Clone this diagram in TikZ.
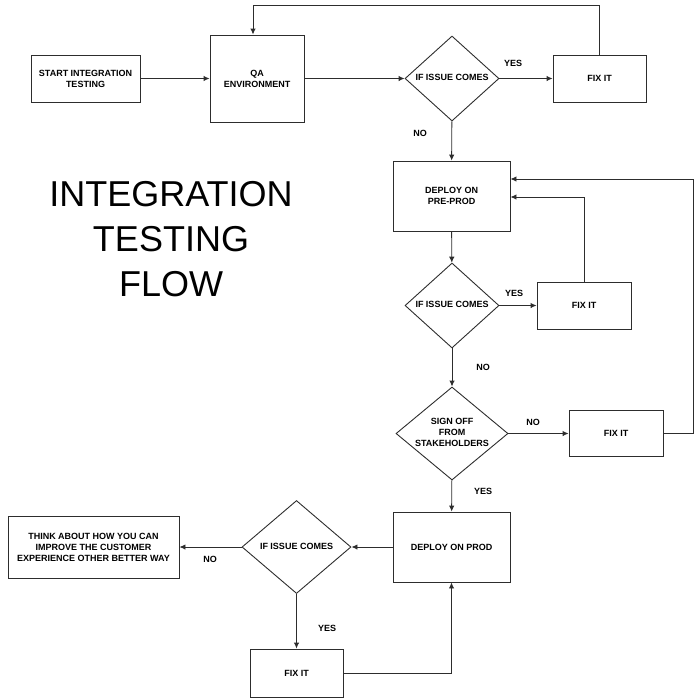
\documentclass[tikz,border=0pt]{standalone}
\usepackage{fontspec}
\setmainfont{Liberation Sans}
\usetikzlibrary{shapes.geometric}
\usetikzlibrary{arrows.meta}
\usepackage{xcolor}
\definecolor{ColLine}{RGB}{45,45,45}
\tikzstyle{StepBox}=[rectangle,draw=ColLine,line width=0.9pt,inner sep=1pt,align=center,
font=\fontsize{9}{11}\selectfont\bfseries]
\tikzstyle{Decision}=[diamond,draw=ColLine,line width=0.9pt,inner sep=0pt,
font=\fontsize{9}{11}\selectfont\bfseries]
\tikzstyle{Flow}=[ColLine,line width=0.9pt,-{Latex[length=6pt,width=5.5pt]}]
\tikzstyle{Answer}=[inner sep=0pt,font=\fontsize{9}{11}\selectfont\bfseries]
\newcommand{\Flat}[1]{\makebox[0pt]{\begin{tabular}{@{}c@{}}#1\end{tabular}}}

\begin{document}
\begin{tikzpicture}[x=1pt,y=-1pt]
        \useasboundingbox (0,0) rectangle (700,697);
        \node[inner sep=0pt,align=center,font=\fontsize{36}{45}\selectfont](title)at(171,239){INTEGRATION\\TESTING\\FLOW};
        \node[StepBox,minimum width=109pt,minimum height=47pt](start)at(85.5,78.5){START INTEGRATION\\TESTING};
        \node[StepBox,minimum width=94pt,minimum height=87pt](qa)at(257,78.5){QA\\ENVIRONMENT};
        \node[Decision,minimum width=94pt,minimum height=85pt](d1)at(452,78.5){\Flat{IF ISSUE COMES}};
        \node[StepBox,minimum width=93pt,minimum height=47pt](fix1)at(599.5,78.5){FIX IT};
        \node[StepBox,minimum width=117pt,minimum height=70pt](dpre)at(451.5,196){DEPLOY ON\\PRE-PROD};
        \node[Decision,minimum width=94pt,minimum height=85pt](d2)at(452,305.5){\Flat{IF ISSUE COMES}};
        \node[StepBox,minimum width=94pt,minimum height=47pt](fix2)at(584,305.5){FIX IT};
        \node[Decision,minimum width=112pt,minimum height=93pt](d3)at(452,433.5){\Flat{SIGN OFF\\FROM\\STAKEHOLDERS}};
        \node[StepBox,minimum width=94pt,minimum height=46pt](fix3)at(616,433.5){FIX IT};
        \node[StepBox,minimum width=117pt,minimum height=70pt](dprod)at(451.5,547){DEPLOY ON PROD};
        \node[Decision,minimum width=109pt,minimum height=93pt](d4)at(296.5,547){\Flat{IF ISSUE COMES}};
        \node[StepBox,minimum width=171pt,minimum height=62pt](think)at(93.5,547){THINK ABOUT HOW YOU CAN\\IMPROVE THE CUSTOMER\\EXPERIENCE OTHER BETTER WAY};
        \node[StepBox,minimum width=93pt,minimum height=48pt](fix4)at(296.5,673){FIX IT};
        \node[Answer](yes1)at(513,63){YES};
        \node[Answer](no1)at(420,133){NO};
        \node[Answer](yes2)at(514,293){YES};
        \node[Answer](no2)at(483,367){NO};
        \node[Answer](no3)at(533,422){NO};
        \node[Answer](yes3)at(483,491){YES};
        \node[Answer](no4)at(210,559){NO};
        \node[Answer](yes4)at(327,628){YES};
        \coordinate(topR)at(599.5,5);
        \coordinate(loopR)at(693,179);
        \draw[Flow](start)--(qa);
        \draw[Flow](qa)--(d1);
        \draw[Flow](d1)--(fix1);
        \draw[Flow](fix1.north)--(topR)-|([xshift=-4pt]qa.north);
        \draw[Flow](d1)--(dpre);
        \draw[Flow](dpre)--(d2);
        \draw[Flow](d2)--(fix2);
        \draw[Flow](fix2.north)|-([yshift=-1pt]dpre.east);
        \draw[Flow](d2)--(d3);
        \draw[Flow](d3)--(fix3);
        \draw[Flow](fix3.east)-|(loopR)--(dpre.east|-loopR);
        \draw[Flow](d3)--(dprod);
        \draw[Flow](dprod)--(d4);
        \draw[Flow](d4)--(think);
        \draw[Flow](d4)--(fix4);
        \draw[Flow](fix4.east)-|(dprod.south);
    \end{tikzpicture}
\end{document}
